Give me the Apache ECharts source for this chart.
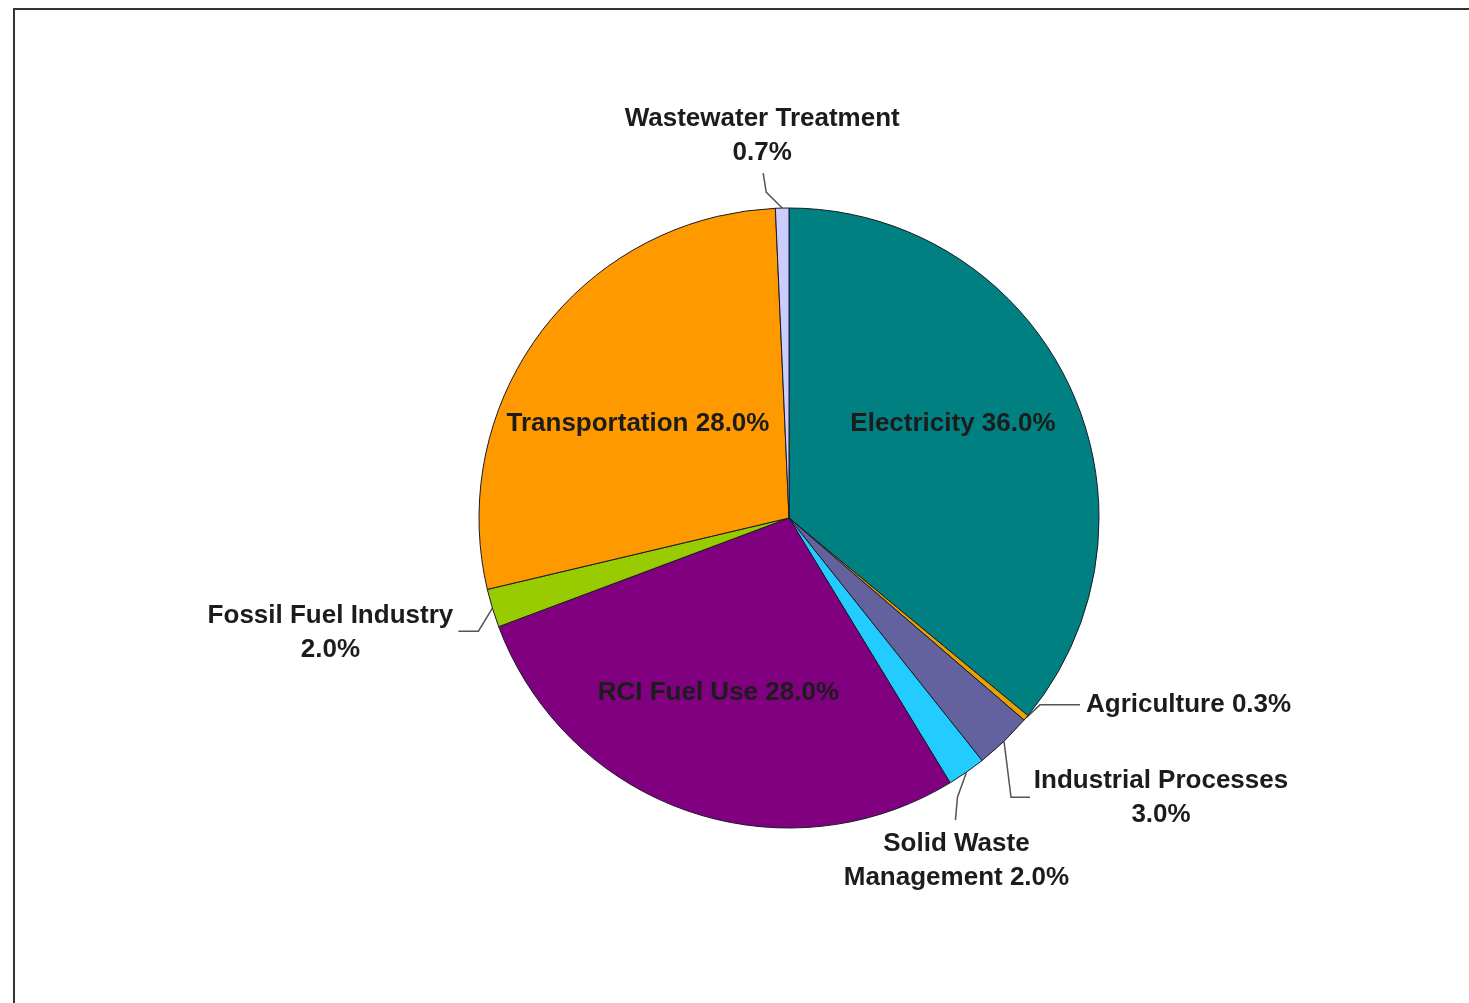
<!DOCTYPE html>
<html>
<head>
<meta charset="utf-8">
<title>Emissions by Sector</title>
<script src="https://cdn.jsdelivr.net/npm/echarts@6/dist/echarts.min.js"></script>
<style>
  html, body { margin: 0; padding: 0; background: #ffffff; }
  #chart { width: 1469px; height: 1003px; }
</style>
</head>
<body>
<div id="chart"></div>
<script>
// Sector shares, clockwise from 12 o'clock
const sectors = [
  'Electricity',
  'Agriculture',
  'Industrial Processes',
  'Solid Waste Management',
  'RCI Fuel Use',
  'Fossil Fuel Industry',
  'Transportation',
  'Wastewater Treatment'
];
const shares = [36.0, 0.3, 3.0, 2.0, 28.0, 2.0, 28.0, 0.7];
const sliceColors = ['#008080', '#E8A300', '#63619E', '#22CCFF', '#800080', '#99CC00', '#FF9900', '#CCCCFF'];

// Label text: line breaks for the outside labels
const labelTexts = [
  'Electricity 36.0%',
  'Agriculture 0.3%',
  'Industrial Processes\n3.0%',
  'Solid Waste\nManagement 2.0%',
  'RCI Fuel Use 28.0%',
  'Fossil Fuel Industry\n2.0%',
  'Transportation 28.0%',
  'Wastewater Treatment\n0.7%'
];
const insideSectors = ['Electricity', 'RCI Fuel Use', 'Transportation'];

// Leader geometry, as offsets from the point where the leader leaves the slice
const leaderLayout = {
  'Agriculture':            { bend: [14, -13], end: [54, -13], text: [60, -13], align: 'left' },
  'Industrial Processes':   { bend: [7, 56],   end: [26, 56],  text: [157, 57], align: 'center' },
  'Solid Waste Management': { bend: [-9, 25],  end: [-11, 48], text: [-10, 89], align: 'center' },
  'Fossil Fuel Industry':   { bend: [-14, 23], end: [-34, 23], text: [-162, 25], align: 'center' },
  'Wastewater Treatment':   { bend: [-16, -16], end: [-19, -35], text: [-20, -72], align: 'center' }
};
// Nudges for the labels drawn inside the large slices
const insideNudge = {
  'Electricity': [21, -27],
  'Transportation': [-25, 1],
  'RCI Fuel Use': [-19, 26]
};

const labelFont = {
  fontFamily: '"Liberation Sans", Arial, sans-serif',
  fontWeight: 'bold',
  fontSize: 26,
  color: '#1c1c1c'
};

const pieData = sectors.map((name, i) => {
  const inside = insideSectors.indexOf(name) >= 0;
  return {
    name: name,
    value: shares[i],
    itemStyle: { color: sliceColors[i] },
    label: inside
      ? { position: 'inside', offset: insideNudge[name], formatter: labelTexts[i] }
      : {
          position: 'outside',
          formatter: labelTexts[i].split('\n').map(t => '{c|' + t + '}').join('\n')
        },
    labelLine: { show: !inside }
  };
});

const chart = echarts.init(document.getElementById('chart'), null, { renderer: 'canvas' });

chart.setOption({
  backgroundColor: '#ffffff',
  animation: false,
  graphic: [
    {
      type: 'polyline',
      shape: { points: [[14, 1003], [14, 9], [1469, 9]] },
      style: { stroke: '#333333', lineWidth: 2, fill: null },
      silent: true
    }
  ],
  series: [
    {
      type: 'pie',
      center: [789, 518],
      radius: [0, 310],
      startAngle: 90,
      clockwise: true,
      avoidLabelOverlap: false,
      itemStyle: { borderColor: '#1a1a2a', borderWidth: 1 },
      label: Object.assign({
        show: true,
        lineHeight: 34,
        rich: {
          c: Object.assign({ align: 'center', lineHeight: 34 }, labelFont)
        }
      }, labelFont),
      labelLine: {
        show: true,
        length: 20,
        length2: 20,
        smooth: false,
        lineStyle: { color: '#555555', width: 1.5 }
      },
      labelLayout: function (params) {
        const name = sectors[params.dataIndex];
        const cfg = leaderLayout[name];
        if (!cfg || !params.labelLinePoints) return {};
        const p0 = params.labelLinePoints[0];
        return {
          x: p0[0] + cfg.text[0],
          y: p0[1] + cfg.text[1],
          align: cfg.align,
          verticalAlign: 'middle',
          labelLinePoints: [
            [p0[0], p0[1]],
            [p0[0] + cfg.bend[0], p0[1] + cfg.bend[1]],
            [p0[0] + cfg.end[0], p0[1] + cfg.end[1]]
          ]
        };
      },
      data: pieData
    }
  ]
});
</script>
</body>
</html>
